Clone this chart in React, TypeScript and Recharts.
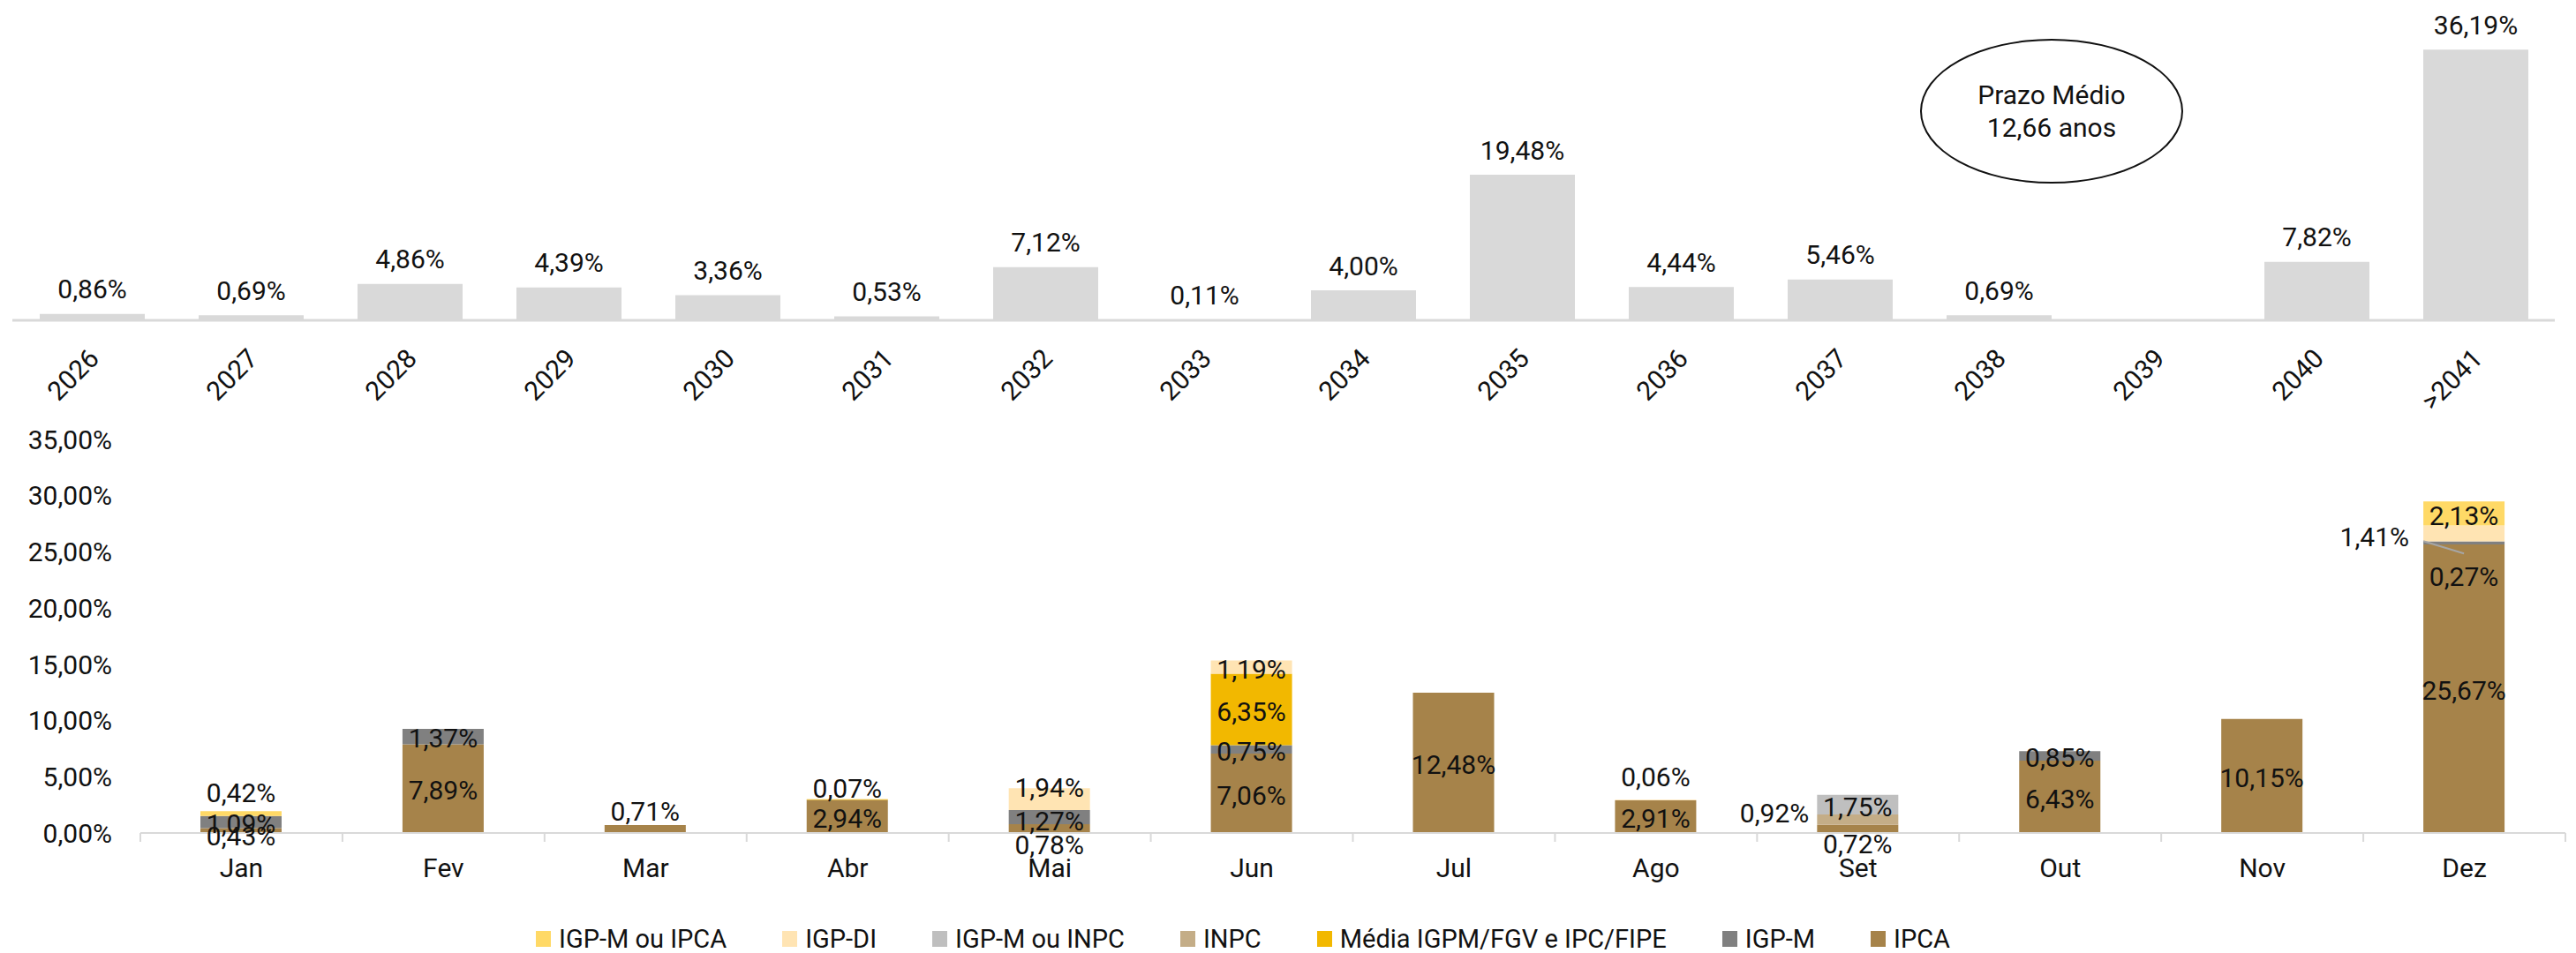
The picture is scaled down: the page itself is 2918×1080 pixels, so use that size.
import React from "react";
import { BarChart, Bar, XAxis, YAxis, LabelList } from "recharts";

// top chart: vencimentos por ano
const years = [
  "2026", "2027", "2028", "2029", "2030", "2031", "2032", "2033",
  "2034", "2035", "2036", "2037", "2038", "2039", "2040", ">2041",
];
const yearShare = [
  0.86, 0.69, 4.86, 4.39, 3.36, 0.53, 7.12, 0.11,
  4.0, 19.48, 4.44, 5.46, 0.69, null, 7.82, 36.19,
];

// bottom chart: reajuste por mês e indexador
const months = ["Jan", "Fev", "Mar", "Abr", "Mai", "Jun", "Jul", "Ago", "Set", "Out", "Nov", "Dez"];
const ipca = [0.43, 7.89, 0.71, 2.94, 0.78, 7.06, 12.48, 2.91, 0.72, 6.43, 10.15, 25.67];
const igpm = [1.09, 1.37, null, null, 1.27, 0.75, null, null, null, 0.85, null, 0.27];
const mediaIgpmIpc = [null, null, null, 0.07, null, 6.35, null, null, null, null, null, null];
const inpc = [null, null, null, null, null, null, null, null, 0.92, null, null, null];
const igpmOuInpc = [null, null, null, null, null, null, null, null, 1.75, null, null, null];
const igpDi = [null, null, null, null, 1.94, 1.19, null, 0.06, null, null, null, 1.41];
const igpmOuIpca = [0.42, null, null, null, null, null, null, null, null, null, null, 2.13];

const yTicks = [0, 5, 10, 15, 20, 25, 30, 35];

const series = [
  { key: "ipca", name: "IPCA", color: "#A6834A", values: ipca },
  { key: "igpm", name: "IGP-M", color: "#808080", values: igpm },
  { key: "media", name: "Média IGPM/FGV e IPC/FIPE", color: "#F2B800", values: mediaIgpmIpc },
  { key: "inpc", name: "INPC", color: "#C4AD87", values: inpc },
  { key: "igpmInpc", name: "IGP-M ou INPC", color: "#BFBFBF", values: igpmOuInpc },
  { key: "igpDi", name: "IGP-DI", color: "#FFE4B3", values: igpDi },
  { key: "igpmIpca", name: "IGP-M ou IPCA", color: "#FFD966", values: igpmOuIpca },
];

// label nudges (like the hand-moved labels in the original)
const labelPos: Record<string, { dy: number; left?: number; leader?: boolean }> = {
  "ipca-0": { dy: 6 },
  "igpmIpca-0": { dy: -24 },
  "ipca-2": { dy: -20 },
  "media-3": { dy: -13 },
  "ipca-4": { dy: 18 },
  "igpm-4": { dy: 4 },
  "igpDi-4": { dy: -13 },
  "igpDi-7": { dy: -26 },
  "ipca-8": { dy: 17 },
  "inpc-8": { dy: -8, left: 9 },
  "igpm-11": { dy: 38, leader: true },
  "igpDi-11": { dy: 4, left: 16 },
};

const FONT = 'Roboto, "DejaVu Sans", sans-serif';
const TEXT = "#111111";
const W = 2918;

const TOP_LEFT = 14;
const TOP_RIGHT = 24;
const topBand = (W - TOP_LEFT - TOP_RIGHT) / years.length;

const Y_AXIS_W = 159;
const BOT_RIGHT = 12;
const botBand = (W - Y_AXIS_W - BOT_RIGHT) / months.length;

const fmt = (v: number) => v.toFixed(2).replace(".", ",") + "%";

const topData = years.map((y, i) => ({ year: y, value: yearShare[i] }));
const bottomData = months.map((m, i) => {
  const row: Record<string, any> = { month: m };
  series.forEach((s) => (row[s.key] = s.values[i]));
  return row;
});

function box(props: any) {
  const vb = props.viewBox || {};
  return {
    x: Number(vb.x ?? props.x),
    y: Number(vb.y ?? props.y),
    width: Number(vb.width ?? props.width),
    height: Number(vb.height ?? props.height),
  };
}

const YearTick = ({ x, y, payload }: any) => {
  const tx = x + 10;
  const ty = y + 45;
  return (
    <text
      x={tx}
      y={ty}
      transform={`rotate(-45 ${tx} ${ty})`}
      textAnchor="end"
      fontSize={30}
      fill={TEXT}
      fontFamily={FONT}
    >
      {payload.value}
    </text>
  );
};

const MonthTick = ({ x, y, payload, index }: any) => (
  <g>
    <line x1={x - botBand / 2} x2={x - botBand / 2} y1={y} y2={y + 10} stroke="#D9D9D9" strokeWidth={2} />
    {index === months.length - 1 && (
      <line x1={x + botBand / 2} x2={x + botBand / 2} y1={y} y2={y + 10} stroke="#D9D9D9" strokeWidth={2} />
    )}
    <text x={x} y={y + 39} dy="0.355em" textAnchor="middle" fontSize={30} fill={TEXT} fontFamily={FONT}>
      {payload.value}
    </text>
  </g>
);

const topLabel = (props: any) => {
  const b = box(props);
  const idx = Math.floor((b.x + b.width / 2 - TOP_LEFT) / topBand);
  const v = yearShare[idx];
  if (v == null) return null;
  const top = Math.min(b.y, b.y + b.height);
  return (
    <text x={b.x + b.width / 2} y={top - 28} dy="0.355em" textAnchor="middle" fontSize={30} fill={TEXT} fontFamily={FONT}>
      {fmt(v)}
    </text>
  );
};

const makeSegLabel = (key: string, values: (number | null)[]) => (props: any) => {
  const b = box(props);
  const idx = Math.floor((b.x + b.width / 2 - Y_AXIS_W) / botBand);
  const v = values[idx];
  if (v == null) return null;
  const pos = labelPos[`${key}-${idx}`] || { dy: 2 };
  const cy = b.y + b.height / 2;
  const tx = pos.left != null ? b.x - pos.left : b.x + b.width / 2;
  return (
    <g>
      {pos.leader && (
        <line x1={b.x} y1={cy - 2} x2={b.x + 46} y2={cy + 12} stroke="#A6A6A6" strokeWidth={2} />
      )}
      <text
        x={tx}
        y={cy + pos.dy}
        dy="0.355em"
        textAnchor={pos.left != null ? "end" : "middle"}
        fontSize={30}
        fill={TEXT}
        fontFamily={FONT}
      >
        {fmt(v)}
      </text>
    </g>
  );
};

export default function App() {
  return (
    <div
      style={{
        position: "absolute",
        left: 0,
        top: 0,
        width: W,
        height: 1080,
        background: "#fff",
        fontFamily: FONT,
        color: TEXT,
        overflow: "hidden",
      }}
    >
      <div style={{ position: "absolute", left: 0, top: 0 }}>
        <BarChart
          width={W}
          height={483}
          data={topData}
          margin={{ top: 24, right: TOP_RIGHT, left: TOP_LEFT, bottom: 0 }}
        >
          <XAxis
            dataKey="year"
            interval={0}
            height={120}
            axisLine={{ stroke: "#D9D9D9", strokeWidth: 3 }}
            tickLine={false}
            tickSize={0}
            tickMargin={0}
            tick={<YearTick />}
          />
          <YAxis hide domain={[0, 40]} />
          <Bar dataKey="value" fill="#D9D9D9" barSize={119} isAnimationActive={false}>
            <LabelList dataKey="value" content={topLabel} />
          </Bar>
        </BarChart>
      </div>

      <div
        style={{
          position: "absolute",
          left: 2175,
          top: 44,
          width: 298,
          height: 164,
          boxSizing: "border-box",
          border: "2px solid #111",
          borderRadius: "50%",
          display: "flex",
          flexDirection: "column",
          alignItems: "center",
          justifyContent: "center",
          fontSize: 30,
          lineHeight: "37px",
        }}
      >
        <div>Prazo Médio</div>
        <div>12,66 anos</div>
      </div>

      <div style={{ position: "absolute", left: 0, top: 440 }}>
        <BarChart
          width={W}
          height={600}
          data={bottomData}
          margin={{ top: 58, right: BOT_RIGHT, left: 0, bottom: 36 }}
        >
          <XAxis
            dataKey="month"
            interval={0}
            height={60}
            axisLine={{ stroke: "#D9D9D9", strokeWidth: 2 }}
            tickLine={false}
            tickSize={0}
            tickMargin={0}
            tick={<MonthTick />}
          />
          <YAxis
            width={Y_AXIS_W}
            domain={[0, 35]}
            ticks={yTicks}
            axisLine={false}
            tickLine={false}
            tickSize={0}
            tickMargin={32}
            tickFormatter={(v: number) => fmt(v)}
            tick={{ fontSize: 30, fill: TEXT, fontFamily: FONT }}
          />
          {/* hidden twin axes: a second, invisible stack that only carries the labels */}
          <XAxis xAxisId="lbl" dataKey="month" hide />
          <YAxis yAxisId="lbl" domain={[0, 35]} hide />
          {series.map((s) => (
            <Bar key={s.key} dataKey={s.key} stackId="a" fill={s.color} barSize={92} isAnimationActive={false} />
          ))}
          {series.map((s) => (
            <Bar
              key={s.key + "-lbl"}
              dataKey={s.key}
              stackId="b"
              xAxisId="lbl"
              yAxisId="lbl"
              fill="none"
              barSize={92}
              isAnimationActive={false}
              legendType="none"
            >
              <LabelList dataKey={s.key} content={makeSegLabel(s.key, s.values)} />
            </Bar>
          ))}
        </BarChart>
      </div>

      <div
        style={{
          position: "absolute",
          left: 607,
          top: 1049,
          display: "flex",
          alignItems: "center",
          gap: 63,
          fontSize: 29,
          lineHeight: "30px",
          whiteSpace: "nowrap",
        }}
      >
        {[...series].reverse().map((s) => (
          <div key={s.key} style={{ display: "flex", alignItems: "center" }}>
            <span style={{ display: "inline-block", width: 17, height: 18, background: s.color, marginRight: 9 }} />
            <span>{s.name}</span>
          </div>
        ))}
      </div>
    </div>
  );
}
